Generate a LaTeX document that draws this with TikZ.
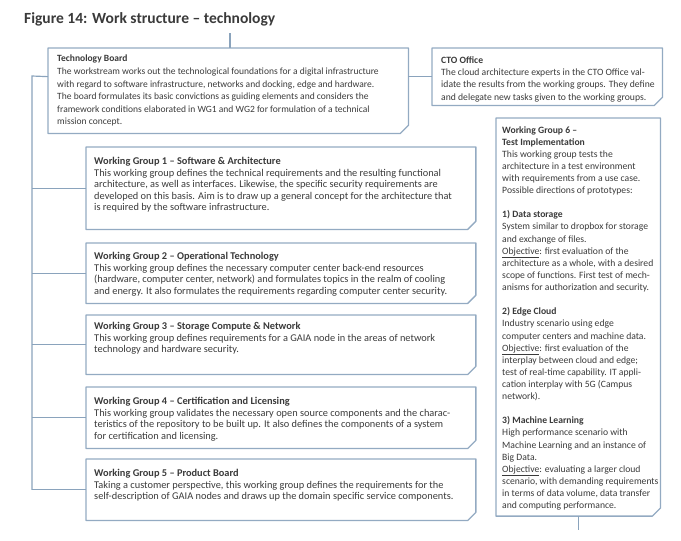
\documentclass[tikz,border=0pt]{standalone}
\usepackage{fontspec}
\setmainfont{Carlito}

\definecolor{boxblue}{HTML}{93AAC2}
\definecolor{lineblue}{HTML}{8AA3BC}
\definecolor{bodygray}{HTML}{3A3A3A}

\tikzset{
  wgbox/.style={rectangle, anchor=north west, inner sep=0pt, minimum width=331pt},
  boxline/.style={draw=boxblue, line width=1.1pt, line join=round},
  wgtext/.style={anchor=north west, align=left, inner sep=0pt, text=bodygray,
    font=\fontsize{8.8}{9.8}\selectfont},
  link/.style={draw=lineblue, line width=1pt},
}

\begin{document}
\begin{tikzpicture}[x=0.85pt,y=-0.85pt]
	\useasboundingbox (0,0) rectangle (681,540);
	\node[anchor=west, text=bodygray, font=\bfseries\fontsize{13.2}{15}\selectfont] (title) at (20,19) {Figure 14: Work structure – technology};

	% boxes
	\node[wgbox, minimum width=306pt, minimum height=72.3pt] (tb) at (48,48) {};
	\node[wgbox, minimum width=195.5pt, minimum height=48.5pt] (cto) at (432,48) {};
	\node[wgbox, minimum height=69.7pt] (wg1) at (86,147) {};
	\node[wgbox, minimum height=51pt] (wg2) at (86,243) {};
	\node[wgbox, minimum height=50.2pt] (wg3) at (86,315) {};
	\node[wgbox, minimum height=51.9pt] (wg4) at (86,387) {};
	\node[wgbox, minimum height=51.9pt] (wg5) at (86,459) {};
	\node[wgbox, minimum width=139.5pt, minimum height=338pt] (wg6) at (496,118) {};

	% outlines with the cut corner
	\foreach \b in {tb,cto,wg1,wg2,wg3,wg4,wg5,wg6}
		\draw[boxline] (\b.north west) -- (\b.north east) -- ([yshift=7pt]\b.south east)
			-- ([xshift=-7pt]\b.south east) -- (\b.south west) -- cycle;

	% texts in the boxes
	\node[wgtext, font=\fontsize{8.1}{10.7}\selectfont] (tb-text) at ([shift={(9,7)}]tb.north west) {\textbf{Technology Board}\\
		The workstream works out the technological foundations for a digital infrastructure\\
		with regard to software infrastructure, networks and docking, edge and hardware.\\
		The board formulates its basic convictions as guiding elements and considers the\\
		framework conditions elaborated in WG1 and WG2 for formulation of a technical\\
		mission concept.};
	\node[wgtext, font=\fontsize{8.2}{10.6}\selectfont] (cto-text) at ([shift={(9,8)}]cto.north west) {\textbf{CTO Office}\\
		The cloud architecture experts in the CTO Office val-\\
		idate the results from the working groups. They define\\
		and delegate new tasks given to the working groups.};
	\node[wgtext] (wg1-text) at ([shift={(8,10)}]wg1.north west) {\textbf{Working Group 1 – Software \& Architecture}\\
		This working group defines the technical requirements and the resulting functional\\
		architecture, as well as interfaces. Likewise, the specific security requirements are\\
		developed on this basis. Aim is to draw up a general concept for the architecture that\\
		is required by the software infrastructure.};
	\node[wgtext] (wg2-text) at ([shift={(8,9)}]wg2.north west) {\textbf{Working Group 2 – Operational Technology}\\
		This working group defines the necessary computer center back-end resources\\
		(hardware, computer center, network) and formulates topics in the realm of cooling\\
		and energy. It also formulates the requirements regarding computer center security.};
	\node[wgtext] (wg3-text) at ([shift={(8,7)}]wg3.north west) {\textbf{Working Group 3 – Storage Compute \& Network}\\
		This working group defines requirements for a GAIA node in the areas of network\\
		technology and hardware security.};
	\node[wgtext] (wg4-text) at ([shift={(8,10)}]wg4.north west) {\textbf{Working Group 4 – Certification and Licensing}\\
		This working group validates the necessary open source components and the charac-\\
		teristics of the repository to be built up. It also defines the components of a system\\
		for certification and licensing.};
	\node[wgtext] (wg5-text) at ([shift={(8,10)}]wg5.north west) {\textbf{Working Group 5 – Product Board}\\
		Taking a customer perspective, this working group defines the requirements for the\\
		self-description of GAIA nodes and draws up the domain specific service components.};
	\node[wgtext, font=\fontsize{8.2}{10.3}\selectfont] (wg6-text) at ([shift={(6,8)}]wg6.north west) {\textbf{Working Group 6 –}\\
		\textbf{Test Implementation}\\
		This working group tests the\\
		architecture in a test environment\\
		with requirements from a use case.\\
		Possible directions of prototypes:\\[10.3pt]
		\textbf{1) Data storage}\\
		System similar to dropbox for storage\\
		and exchange of files.\\
		\underline{Objective}: first evaluation of the\\
		architecture as a whole, with a desired\\
		scope of functions. First test of mech-\\
		anisms for authorization and security.\\[10.3pt]
		\textbf{2) Edge Cloud}\\
		Industry scenario using edge\\
		computer centers and machine data.\\
		\underline{Objective}: first evaluation of the\\
		interplay between cloud and edge;\\
		test of real-time capability. IT appli-\\
		cation interplay with 5G (Campus\\
		network).\\[10.3pt]
		\textbf{3) Machine Learning}\\
		High performance scenario with\\
		Machine Learning and an instance of\\
		Big Data.\\
		\underline{Objective}: evaluating a larger cloud\\
		scenario, with demanding requirements\\
		in terms of data volume, data transfer\\
		and computing performance.};

	% connectors
	\coordinate (stub) at (230,33);
	\coordinate (trunk) at (32,76);
	\draw[link] (stub) -- (stub |- tb.north);
	\draw[link] (cto.west -| tb.east) -- (cto.west);
	\draw[link] ([yshift=12pt]tb.west) -- (trunk) -- (trunk |- wg5.west);
	\foreach \g in {1,...,5}
		\draw[link] (trunk |- wg\g.west) -- (wg\g.west);
	\draw[link] (wg6.south) -- ++(0,14);
\end{tikzpicture}
\end{document}
